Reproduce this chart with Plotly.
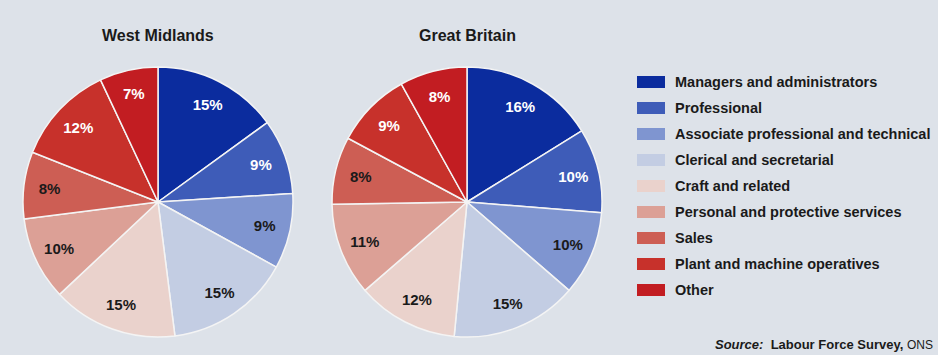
import plotly.graph_objects as go

# Occupation groups and shares (%) of people in employment
categories = [
    "Managers and administrators",
    "Professional",
    "Associate professional and technical",
    "Clerical and secretarial",
    "Craft and related",
    "Personal and protective services",
    "Sales",
    "Plant and machine operatives",
    "Other",
]
west_midlands = [15, 9, 9, 15, 15, 10, 8, 12, 7]
great_britain = [16, 10, 10, 15, 12, 11, 8, 9, 8]

colors = [
    "#0b2c9e", "#3e5cb8", "#7f95d0", "#c3cde3", "#ead2cc",
    "#dca096", "#cd5e54", "#c7312b", "#c21d22",
]
wm_text_colors = ["white", "white", "#1a1a1a", "#1a1a1a", "#1a1a1a",
                  "#1a1a1a", "#1a1a1a", "white", "white"]
gb_text_colors = ["white", "white", "#1a1a1a", "#1a1a1a", "#1a1a1a",
                  "#1a1a1a", "#1a1a1a", "white", "white"]

W, H = 938, 355
BG = "#dde2e9"
FONT = "Liberation Sans, Arial, sans-serif"

fig = go.Figure()


def add_pie(values, text_colors, x0, x1, y0, y1):
    domain = dict(x=[x0 / W, x1 / W], y=[1 - y1 / H, 1 - y0 / H])
    common = dict(labels=categories, values=values, sort=False,
                  direction="clockwise", rotation=0, domain=domain,
                  showlegend=False)
    # filled slices
    fig.add_trace(go.Pie(
        **common,
        marker=dict(colors=colors, line=dict(color="#f4f4f4", width=1.5)),
        textinfo="none",
        hoverinfo="label+value",
    ))
    # transparent ring carrying the value labels near the rim
    fig.add_trace(go.Pie(
        **common,
        hole=0.62,
        marker=dict(colors=["rgba(0,0,0,0)"] * len(values),
                    line=dict(width=0)),
        texttemplate="<b>%{value}%</b>",
        textposition="inside",
        insidetextorientation="horizontal",
        textfont=dict(family=FONT, size=15, color=text_colors),
        hoverinfo="skip",
    ))


add_pie(west_midlands, wm_text_colors, 23, 293, 67, 337)
add_pie(great_britain, gb_text_colors, 332, 602, 67, 337)

annotations = [
    dict(x=158 / W, y=1 - 36 / H, text="<b>West Midlands</b>"),
    dict(x=467 / W, y=1 - 36 / H, text="<b>Great Britain</b>"),
]
annotations = [dict(a, xref="paper", yref="paper", showarrow=False,
                    xanchor="center", yanchor="middle",
                    font=dict(family=FONT, size=16, color="#1a1a1a"))
               for a in annotations]

# Legend: swatch + label for each category
shapes = []
row0, step = 82, 26.0
for i, (name, col) in enumerate(zip(categories, colors)):
    yc = row0 + i * step
    shapes.append(dict(type="rect", xref="paper", yref="paper",
                       x0=637 / W, x1=665 / W,
                       y0=1 - (yc + 6) / H, y1=1 - (yc - 6) / H,
                       fillcolor=col, line=dict(width=0)))
    annotations.append(dict(xref="paper", yref="paper", showarrow=False,
                            x=673 / W, y=1 - yc / H, xanchor="left",
                            yanchor="middle", text="<b>" + name + "</b>",
                            font=dict(family=FONT, size=14.5, color="#1a1a1a")))

annotations.append(dict(xref="paper", yref="paper", showarrow=False,
                        x=935 / W, y=1 - 344 / H, xanchor="right",
                        yanchor="middle",
                        text="<b><i>Source:</i>  Labour Force Survey, </b>"
                             "<span style='font-size:12px'>ONS</span>",
                        font=dict(family=FONT, size=13, color="#1a1a1a")))

fig.update_layout(
    width=W, height=H,
    margin=dict(l=0, r=0, t=0, b=0),
    paper_bgcolor=BG, plot_bgcolor=BG,
    annotations=annotations,
    shapes=shapes,
    uniformtext=dict(minsize=10, mode="show"),
)

fig.write_html("out.html", config={"displayModeBar": False})
